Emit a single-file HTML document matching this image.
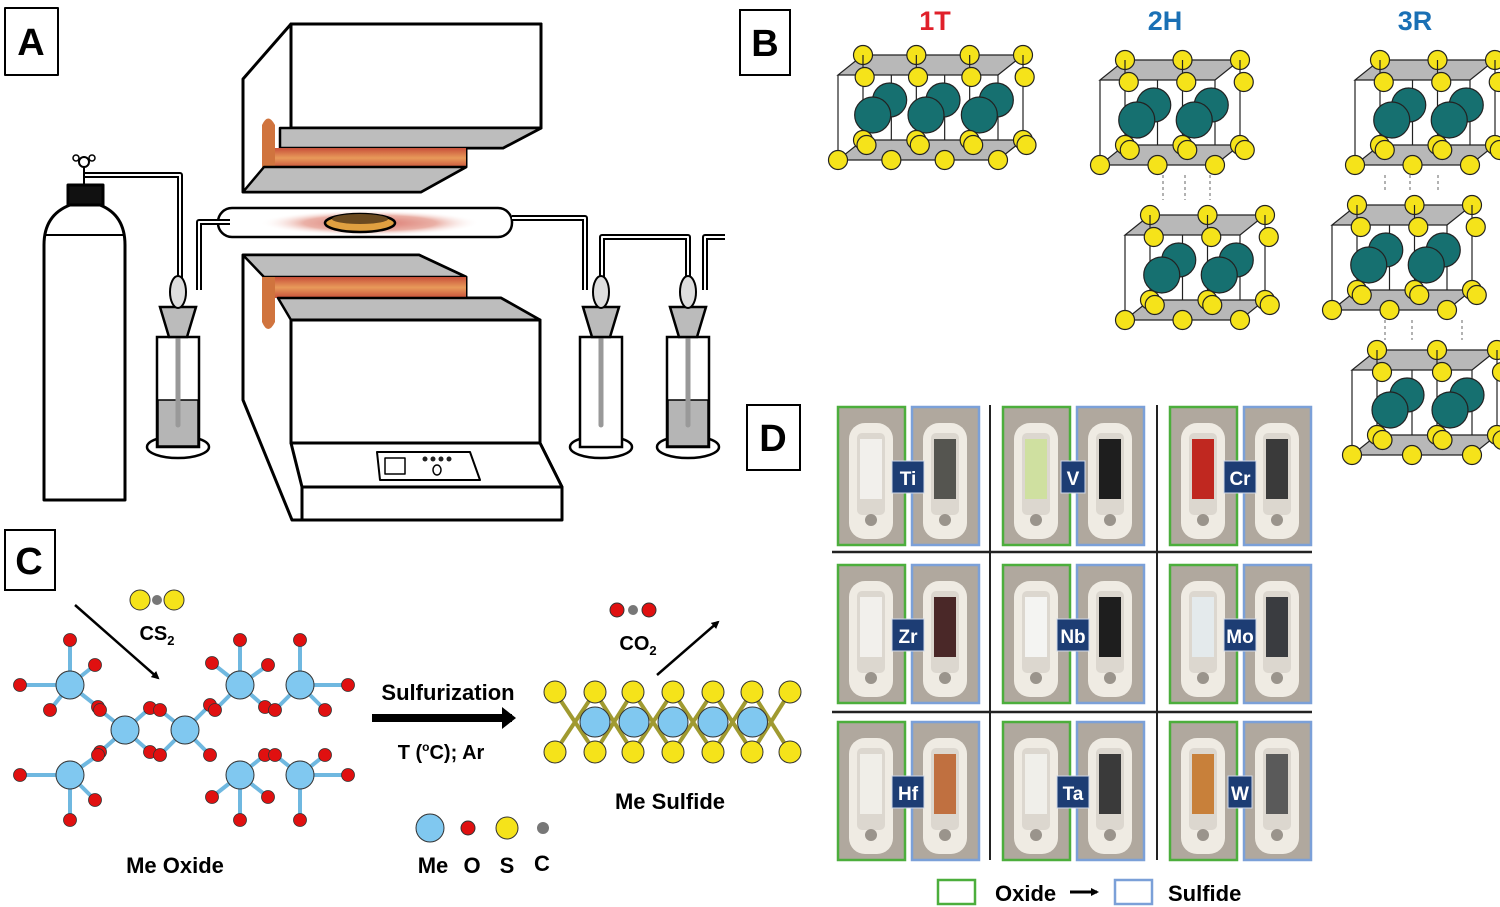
<!DOCTYPE html>
<html><head><meta charset="utf-8"><style>
html,body{margin:0;padding:0;background:#fff;}
svg{display:block;font-family:"Liberation Sans",sans-serif;}
.lb{font-weight:bold;}
</style></head><body>
<svg id="s" width="1500" height="907" viewBox="0 0 1500 907" xmlns="http://www.w3.org/2000/svg">
<defs>
<linearGradient id="org" x1="0" y1="0" x2="0" y2="1"><stop offset="0" stop-color="#c8503a"/><stop offset="0.5" stop-color="#e89a5a"/><stop offset="1" stop-color="#c8503a"/></linearGradient>
<radialGradient id="glow" cx="0.5" cy="0.5" r="0.5"><stop offset="0" stop-color="#d9736a"/><stop offset="0.6" stop-color="#eab0a6"/><stop offset="1" stop-color="#fff" stop-opacity="0"/></radialGradient>
<marker id="ah" markerWidth="8" markerHeight="8" refX="6" refY="4" orient="auto" markerUnits="userSpaceOnUse"><path d="M0,0 L8,4 L0,8 z" fill="#000"/></marker>
<marker id="ah2" markerWidth="22" markerHeight="22" refX="10" refY="11" orient="auto" markerUnits="userSpaceOnUse"><path d="M0,0 L14,11 L0,22 z" fill="#000"/></marker>
</defs>
<g stroke="#000" stroke-width="3" stroke-linejoin="round">
<rect x="5" y="8" width="53" height="67" fill="#fff" stroke-width="2"/>
<polygon points="243,79 291,24 541,24 541,128 503,148 466,148 466,167 421,192 243,192" fill="#fff"/>
<rect x="291" y="24" width="250" height="104" fill="#fff"/>
<polygon points="280,128 541,128 503,148 280,148" fill="#bdbdbd" stroke-width="2.5"/>
<rect x="264" y="148" width="202" height="20" fill="url(#org)" stroke="none"/>
<path d="M262,168 L262,125 Q268,112 275,125 L275,168 z" fill="#d0743e" stroke="none"/>
<polygon points="243,192 264,167 466,167 421,192" fill="#bdbdbd" stroke-width="2.5"/>
<rect x="260" y="210" width="220" height="26" fill="url(#glow)" stroke="none"/>
<rect x="218" y="208" width="294" height="29" rx="14" fill="none" stroke-width="2.5"/>
<ellipse cx="360" cy="223" rx="35" ry="9" fill="#e0a040" stroke-width="2.5"/>
<ellipse cx="360" cy="219" rx="28" ry="5" fill="#6b4a20" stroke="none"/>
<path d="M84,175 L180,175 L180,285" fill="none" stroke-width="6"/><path d="M84,175 L180,175 L180,285" fill="none" stroke="#fff" stroke-width="2"/>
<path d="M230,222 L199,222 L199,290" fill="none" stroke-width="6"/><path d="M230,222 L199,222 L199,290" fill="none" stroke="#fff" stroke-width="2"/>
<path d="M512,218 L585,218 L585,290" fill="none" stroke-width="6"/><path d="M512,218 L585,218 L585,290" fill="none" stroke="#fff" stroke-width="2"/>
<path d="M602,290 L602,237 L688,237 L688,290" fill="none" stroke-width="6"/><path d="M602,290 L602,237 L688,237 L688,290" fill="none" stroke="#fff" stroke-width="2"/>
<path d="M705,290 L705,237 L725,237" fill="none" stroke-width="6"/><path d="M705,290 L705,237 L725,237" fill="none" stroke="#fff" stroke-width="2"/>
<path d="M44,500 L44,245 Q44,215 70,205 L100,205 Q125,215 125,245 L125,500 z" fill="#fff"/>
<line x1="44" y1="235" x2="125" y2="235" stroke-width="2"/>
<rect x="68" y="185" width="35" height="20" fill="#111"/>
<circle cx="84" cy="162" r="5" fill="#fff" stroke-width="2"/><circle cx="76" cy="158" r="3" fill="#fff" stroke-width="1.5"/><circle cx="92" cy="158" r="3" fill="#fff" stroke-width="1.5"/>
<line x1="84" y1="167" x2="84" y2="185" stroke-width="2"/>
<polygon points="243,255 419,255 466,277 466,298 501,298 540,320 540,443 562,487 562,520 292,520 243,400" fill="#fff"/>
<polygon points="243,255 419,255 466,277 264,277" fill="#bdbdbd" stroke-width="2.5"/>
<rect x="264" y="277" width="202" height="21" fill="url(#org)" stroke="none"/>
<path d="M262,277 L262,322 Q268,336 275,322 L275,277 z" fill="#d0743e" stroke="none"/>
<polygon points="278,298 501,298 540,320 291,320" fill="#bdbdbd" stroke-width="2.5"/>
<rect x="291" y="320" width="249" height="123" fill="#fff"/>
<polygon points="291,443 540,443 562,487 302,487" fill="#fff"/>
<line x1="302" y1="487" x2="302" y2="520"/>
<polygon points="377,452 470,452 480,480 380,480" fill="#fff" stroke-width="2"/>
<rect x="385" y="458" width="20" height="16" fill="#fff" stroke-width="1.5"/>
<g fill="#222" stroke="none"><circle cx="425" cy="459" r="2.5"/><circle cx="433" cy="459" r="2.5"/><circle cx="441" cy="459" r="2.5"/><circle cx="449" cy="459" r="2.5"/></g>
<ellipse cx="437" cy="470" rx="4" ry="5" fill="#fff" stroke-width="1.5"/>
</g>
<g id="bub"></g>
<text x="31" y="55" font-size="38" class="lb" text-anchor="middle">A</text>

<rect x="740" y="10" width="50" height="65" fill="#fff" stroke="#000" stroke-width="2"/>
<text x="765" y="56" font-size="38" class="lb" text-anchor="middle">B</text>
<text x="935" y="30" font-size="27" class="lb" text-anchor="middle" fill="#e0202a">1T</text>
<text x="1165" y="30" font-size="27" class="lb" text-anchor="middle" fill="#1a70b5">2H</text>
<text x="1415" y="30" font-size="27" class="lb" text-anchor="middle" fill="#1a70b5">3R</text>
<g id="cry"></g>

<rect x="5" y="530" width="50" height="60" fill="#fff" stroke="#000" stroke-width="2"/>
<text x="29" y="574" font-size="38" class="lb" text-anchor="middle">C</text>
<g id="ox"></g>
<line x1="75" y1="605" x2="158" y2="678" stroke="#000" stroke-width="2.5" marker-end="url(#ah)"/>
<circle cx="140" cy="600" r="10" fill="#f5e31a" stroke="#333" stroke-width="1"/><circle cx="157" cy="600" r="5" fill="#777"/><circle cx="174" cy="600" r="10" fill="#f5e31a" stroke="#333" stroke-width="1"/>
<text x="157" y="640" font-size="20" class="lb" text-anchor="middle">CS<tspan font-size="13" dy="5">2</tspan></text>
<text x="175" y="873" font-size="22" class="lb" text-anchor="middle">Me Oxide</text>
<line x1="372" y1="718" x2="512" y2="718" stroke="#000" stroke-width="8" marker-end="url(#ah2)"/>
<text x="448" y="700" font-size="22" class="lb" text-anchor="middle">Sulfurization</text>
<text x="441" y="759" font-size="20" class="lb" text-anchor="middle">T (<tspan font-size="12" dy="-8">o</tspan><tspan dy="8">C); Ar</tspan></text>
<g id="sul"></g>
<circle cx="617" cy="610" r="7" fill="#e01010" stroke="#333" stroke-width="1"/><circle cx="633" cy="610" r="5" fill="#777"/><circle cx="649" cy="610" r="7" fill="#e01010" stroke="#333" stroke-width="1"/>
<text x="638" y="650" font-size="20" class="lb" text-anchor="middle">CO<tspan font-size="13" dy="5">2</tspan></text>
<line x1="657" y1="675" x2="718" y2="622" stroke="#000" stroke-width="2.5" marker-end="url(#ah)"/>
<text x="670" y="809" font-size="22" class="lb" text-anchor="middle">Me Sulfide</text>
<circle cx="430" cy="828" r="14" fill="#80c8f0" stroke="#333" stroke-width="1"/>
<circle cx="468" cy="828" r="7" fill="#e01010" stroke="#333" stroke-width="1"/>
<circle cx="507" cy="828" r="11" fill="#f5e31a" stroke="#333" stroke-width="1"/>
<circle cx="543" cy="828" r="6" fill="#777"/>
<g font-size="22" class="lb" text-anchor="middle"><text x="433" y="873">Me</text><text x="472" y="873">O</text><text x="507" y="873">S</text><text x="542" y="871">C</text></g>

<rect x="747" y="405" width="53" height="65" fill="#fff" stroke="#000" stroke-width="2"/>
<text x="773" y="451" font-size="38" class="lb" text-anchor="middle">D</text>
<g id="ph"></g>
<line x1="990" y1="405" x2="990" y2="860" stroke="#222" stroke-width="2"/>
<line x1="1157" y1="405" x2="1157" y2="860" stroke="#222" stroke-width="2"/>
<line x1="832" y1="552" x2="1312" y2="552" stroke="#222" stroke-width="2.5"/>
<line x1="832" y1="712" x2="1312" y2="712" stroke="#222" stroke-width="2.5"/>
<rect x="938" y="880" width="37" height="24" fill="#fff" stroke="#4cae3c" stroke-width="2.5"/>
<text x="995" y="901" font-size="22" class="lb">Oxide</text>
<line x1="1070" y1="892" x2="1097" y2="892" stroke="#000" stroke-width="3" marker-end="url(#ah)"/>
<rect x="1115" y="880" width="37" height="24" fill="#fff" stroke="#7ba0d8" stroke-width="2.5"/>
<text x="1168" y="901" font-size="22" class="lb">Sulfide</text>
</svg>
<script>
var NS="http://www.w3.org/2000/svg";
function el(p,t,a){var e=document.createElementNS(NS,t);for(var k in a)e.setAttribute(k,a[k]);p.appendChild(e);return e;}
var bub=document.getElementById('bub');
[[178,true],[601,false],[688,true]].forEach(function(b){var x=b[0];
 el(bub,'ellipse',{cx:x,cy:447,rx:31,ry:11,fill:'#fff',stroke:'#000','stroke-width':2.5});
 el(bub,'rect',{x:x-21,y:337,width:42,height:110,fill:'#fff',stroke:'#000','stroke-width':2.5});
 if(b[1])el(bub,'rect',{x:x-20,y:400,width:40,height:46,fill:'#b5b5b5',stroke:'#000','stroke-width':1.5});
 el(bub,'line',{x1:x,y1:320,x2:x,y2:425,stroke:'#999','stroke-width':5,'stroke-linecap':'round'});
 el(bub,'polygon',{points:(x-18)+',307 '+(x+18)+',307 '+(x+9)+',337 '+(x-9)+',337',fill:'#bbb',stroke:'#000','stroke-width':2.5});
 el(bub,'ellipse',{cx:x,cy:292,rx:8,ry:16,fill:'#ddd',stroke:'#000','stroke-width':2});
});
var cry=document.getElementById('cry');
function Y(g,x,y){el(g,'circle',{cx:x,cy:y,r:9.5,fill:'#f5e31a'});}
function layer(x0,y0,w,n){
 var g=el(cry,'g',{stroke:'#222','stroke-width':1.2});
 var sp=(w-25)/(n-1), d=25;
 function plane(y){el(g,'polygon',{points:(x0+d)+','+y+' '+(x0+w)+','+y+' '+(x0+w-d)+','+(y+20)+' '+x0+','+(y+20),fill:'#b8b8b8'});}
 plane(y0+10);
 for(var i=0;i<n;i++){Y(g,x0+d+i*sp,y0+10);}
 for(var i=0;i<n;i++){var xb=x0+i*sp;el(g,'line',{x1:xb,y1:y0+30,x2:xb,y2:y0+110});el(g,'line',{x1:x0+d+i*sp,y1:y0+10,x2:x0+d+i*sp,y2:y0+95});}
 for(var i=0;i<n-1;i++){var xc=x0+d+sp/2+i*sp;el(g,'circle',{cx:xc,cy:y0+55,r:17,fill:'#167070'});}
 for(var i=0;i<n;i++){Y(g,x0+i*sp+sp*0.5,y0+32);}
 for(var i=0;i<n-1;i++){var xc=x0+sp/2+i*sp+8;el(g,'circle',{cx:xc,cy:y0+70,r:18,fill:'#167070'});}
 plane(y0+95);
 for(var i=0;i<n;i++){Y(g,x0+d+i*sp,y0+95);Y(g,x0+d/2+i*sp+sp*0.3,y0+100);}
 for(var i=0;i<n;i++){Y(g,x0+i*sp,y0+115);}
}
layer(838,45,185,4);
layer(1100,50,140,3);layer(1125,205,140,3);
layer(1355,50,140,3);layer(1332,195,140,3);layer(1352,340,145,3);
[[1163,175,200],[1185,175,200],[1210,175,200],[1385,175,190],[1410,175,190],[1438,175,190],[1385,320,340],[1412,320,340],[1462,320,340]].forEach(function(d){el(cry,'line',{x1:d[0],y1:d[1],x2:d[0],y2:d[2],stroke:'#666','stroke-dasharray':'3,3'});});
var ox=document.getElementById('ox');
var M=[[70,685],[125,730],[70,775],[185,730],[240,685],[300,685],[240,775],[300,775]];
var O=[];
[[70,685,[[-50,0],[0,-45],[25,-20],[-20,25],[28,22]]],[125,730,[[-25,-20],[25,-22],[-25,22],[25,22]]],[70,775,[[-50,0],[0,45],[25,25],[28,-20]]],[185,730,[[-25,-20],[25,-25],[-25,25],[25,25]]],[240,685,[[0,-45],[-28,-22],[28,-20],[-25,25],[25,22]]],[300,685,[[0,-45],[48,0],[-25,25],[25,25]]],[240,775,[[-28,22],[0,45],[28,22],[25,-20]]],[300,775,[[48,0],[0,45],[-25,-20],[25,-20]]]].forEach(function(m){
 m[2].forEach(function(d){var x=m[0]+d[0],y=m[1]+d[1];el(ox,'line',{x1:m[0],y1:m[1],x2:x,y2:y,stroke:'#6fb8e0','stroke-width':4});O.push([x,y]);});});
M.forEach(function(m){el(ox,'circle',{cx:m[0],cy:m[1],r:14,fill:'#80c8f0',stroke:'#333','stroke-width':1});});
O.forEach(function(o){el(ox,'circle',{cx:o[0],cy:o[1],r:6.5,fill:'#e01010',stroke:'#333','stroke-width':0.8});});
var su=document.getElementById('sul');
var sx=[555,595,633,673,713,752,790];
for(var i=0;i<6;i++){el(su,'line',{x1:sx[i],y1:692,x2:sx[i+1],y2:752,stroke:'#a09a30','stroke-width':4});el(su,'line',{x1:sx[i+1],y1:692,x2:sx[i],y2:752,stroke:'#a09a30','stroke-width':4});}
for(var i=0;i<5;i++){el(su,'circle',{cx:(sx[i]+sx[i+1])/2+20,cy:722,r:15,fill:'#80c8f0',stroke:'#333','stroke-width':1});}
sx.forEach(function(x){el(su,'circle',{cx:x,cy:692,r:11,fill:'#f5e31a',stroke:'#333','stroke-width':1});el(su,'circle',{cx:x,cy:752,r:11,fill:'#f5e31a',stroke:'#333','stroke-width':1});});
var ph=document.getElementById('ph');
var names=['Ti','V','Cr','Zr','Nb','Mo','Hf','Ta','W'];
var oxc=['#f2f0ec','#cfe0a0','#c02820','#f2f0ec','#f4f4f2','#e4eaec','#f0eee8','#f0efea','#c8803a'];
var suc=['#555550','#1e1e1e','#3a3a3a','#4a2828','#1e1e1e','#3a3c40','#c07040','#3a3a3a','#5a5a5a'];
var cx0=[838,1003,1170],ry0=[407,565,722];
for(var r=0;r<3;r++)for(var c=0;c<3;c++){var k=r*3+c,x=cx0[c],y=ry0[r];
 [[x,'#4cae3c',oxc[k]],[x+74,'#7ba0d8',suc[k]]].forEach(function(p){
  el(ph,'rect',{x:p[0],y:y,width:67,height:138,fill:'#b0a89e',stroke:p[1],'stroke-width':2.5});
  el(ph,'rect',{x:p[0]+11,y:y+16,width:44,height:116,rx:16,fill:'#efebe3'});
  el(ph,'rect',{x:p[0]+19,y:y+26,width:28,height:82,rx:5,fill:'#dcd7cf'});
  el(ph,'rect',{x:p[0]+22,y:y+32,width:22,height:60,fill:p[2]});
  el(ph,'circle',{cx:p[0]+33,cy:y+113,r:6,fill:'#9a948c'});
 });
 var tw=names[k].length>1?32:24;
 el(ph,'rect',{x:x+70-tw/2,y:y+54,width:tw,height:32,fill:'#1d3d74',stroke:'#cfd8e8','stroke-width':1});
 var t=el(ph,'text',{x:x+70,y:y+78,'font-size':19,'font-weight':'bold','text-anchor':'middle',fill:'#fff'});t.textContent=names[k];
}
</script>
</body></html>
